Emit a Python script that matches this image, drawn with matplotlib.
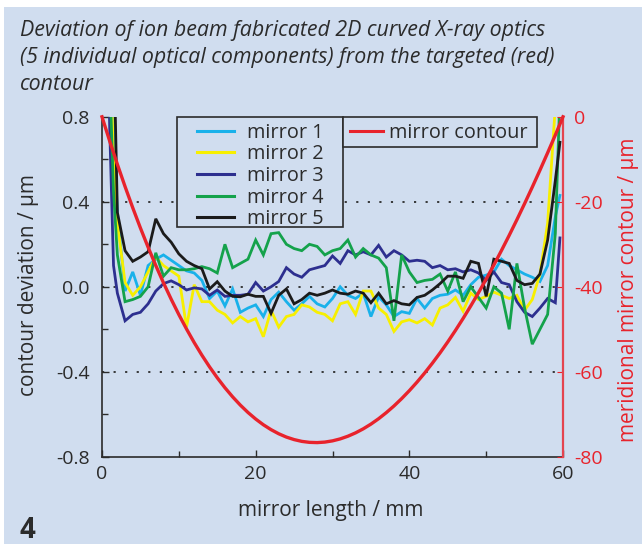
import numpy as np
import matplotlib
matplotlib.use("Agg")
import matplotlib.pyplot as plt
from matplotlib.patches import Rectangle
from matplotlib.lines import Line2D

plt.rcParams['font.family'] = ['Open Sans', 'DejaVu Sans']
plt.rcParams['axes.unicode_minus'] = False

BG = '#d0ddef'
INK = '#2b2b2b'
RED = '#e8232c'

# measured profile positions along the mirror (mm)
length_mm = np.array([0.5, 1.0, 1.5] + list(range(2, 60)) + [59.6])

# contour deviation of each mirror (µm)
mirror_1 = [3.0, 1.5, 0.75, 0.35, -0.02, 0.07, -0.04, 0.10, 0.13, 0.15, 0.125, 0.10, 0.075, 0.065,
            0.03, -0.055, -0.02, -0.09, -0.01, -0.12, -0.10, -0.085, -0.14, -0.06, -0.025, -0.07,
            -0.11, -0.08, -0.045, -0.08, -0.095, -0.055, 0.0, -0.04, -0.055, -0.03, -0.14, -0.047,
            -0.085, -0.14, -0.117, -0.125, -0.055, -0.10, -0.055, -0.04, -0.035, -0.015, -0.04,
            0.01, 0.045, 0.055, 0.07, 0.13, 0.10, 0.08, 0.06, 0.045, 0.025, 0.10, 0.33, 0.43]
mirror_2 = [2.8, 1.2, 0.6, 0.3, 0.02, -0.04, 0.0, 0.07, 0.14, 0.10, 0.075, 0.05, -0.19, 0.01,
            -0.07, -0.07, -0.11, -0.13, -0.17, -0.14, -0.165, -0.15, -0.235, -0.11, -0.19, -0.14,
            -0.13, -0.085, -0.095, -0.12, -0.13, -0.16, -0.08, -0.07, -0.13, -0.02, -0.02, -0.10,
            -0.13, -0.21, -0.165, -0.155, -0.17, -0.15, -0.18, -0.10, -0.085, -0.05, -0.115, -0.03,
            -0.06, -0.045, -0.025, -0.04, -0.055, -0.04, -0.11, -0.06, 0.06, 0.30, 0.85, 1.5]
mirror_3 = [1.8, 0.75, 0.1, -0.03, -0.16, -0.13, -0.12, -0.08, -0.02, 0.015, 0.028, 0.01, -0.015,
            -0.005, -0.01, -0.04, -0.015, -0.045, -0.04, -0.04, -0.035, 0.02, -0.02, 0.0, 0.025,
            0.09, 0.06, 0.045, 0.08, 0.09, 0.10, 0.145, 0.11, 0.17, 0.15, 0.165, 0.15, 0.195, 0.14,
            0.17, 0.15, 0.12, 0.125, 0.12, 0.09, 0.10, 0.08, 0.085, 0.07, 0.08, 0.065, 0.03, 0.07,
            0.02, 0.01, -0.07, -0.12, -0.14, -0.10, -0.055, -0.075, 0.23]
mirror_4 = [2.5, 1.0, 0.45, 0.15, -0.07, -0.06, -0.045, 0.0, 0.16, 0.05, 0.09, 0.08, 0.08, 0.085,
            0.095, 0.085, 0.065, 0.20, 0.09, 0.11, 0.13, 0.22, 0.15, 0.25, 0.255, 0.20, 0.18, 0.17,
            0.20, 0.19, 0.15, 0.17, 0.18, 0.22, 0.14, 0.18, 0.15, 0.135, 0.09, -0.16, 0.15, 0.07,
            0.02, 0.03, 0.035, 0.06, -0.02, 0.07, -0.07, 0.0, -0.05, -0.10, 0.0, -0.03, -0.20, 0.11,
            -0.10, -0.27, -0.20, -0.13, 0.25, 0.9]
mirror_5 = [4.0, 3.0, 1.2, 0.35, 0.17, 0.12, 0.14, 0.165, 0.32, 0.25, 0.21, 0.155, 0.12, 0.10,
            0.085, -0.01, 0.024, -0.02, -0.045, -0.047, -0.035, -0.045, -0.045, -0.125, -0.04,
            -0.01, -0.08, -0.06, -0.03, -0.04, -0.03, -0.015, -0.03, -0.035, -0.02, -0.03, -0.075,
            -0.03, -0.08, -0.065, -0.08, -0.085, -0.05, -0.04, -0.015, 0.015, 0.05, 0.05, 0.04,
            0.12, 0.11, -0.045, 0.13, 0.12, 0.11, 0.03, 0.01, 0.016, 0.06, 0.22, 0.50, 0.68]

series = [("mirror 1", mirror_1, '#19b1ea'),
          ("mirror 2", mirror_2, '#f7ef00'),
          ("mirror 3", mirror_3, '#2d2f8f'),
          ("mirror 4", mirror_4, '#14a24b'),
          ("mirror 5", mirror_5, '#1b1b1b')]

# targeted meridional contour (µm), 1 mm steps
contour_x = np.arange(0, 61, 1)
contour_um = [0.0, -5.71, -11.18, -16.41, -21.40, -26.16, -30.69, -34.99, -39.06, -42.90,
              -46.53, -49.93, -53.12, -56.09, -58.85, -61.40, -63.75, -65.89, -67.83, -69.57,
              -71.11, -72.46, -73.61, -74.58, -75.36, -75.95, -76.37, -76.60, -76.66, -76.54,
              -76.25, -75.79, -75.16, -74.37, -73.42, -72.31, -71.04, -69.61, -68.04, -66.31,
              -64.44, -62.43, -60.27, -57.97, -55.54, -52.97, -50.27, -47.44, -44.48, -41.40,
              -38.19, -34.87, -31.43, -27.88, -24.21, -20.43, -16.55, -12.56, -8.47, -4.29, 0.0]

left_ticks = [0.8, 0.4, 0.0, -0.4, -0.8]
left_labels = ["0.8", "0.4", "0.0", "-0.4", "-0.8"]
right_ticks = [0, -20, -40, -60, -80]
right_labels = ["0", "-20", "-40", "-60", "-80"]
x_ticks = [0, 20, 40, 60]

W, H = 642, 544
fig = plt.figure(figsize=(W / 100, H / 100), dpi=100, facecolor='white')
fig.add_artist(Rectangle((4 / W, 0), 1, (H - 7) / H, transform=fig.transFigure,
                         facecolor=BG, edgecolor='none', zorder=-10))

ax = fig.add_axes([102 / W, 87.2 / H, 461 / W, 340 / H])
ax.set_facecolor('none')
ax.set_xlim(0, 60)
ax.set_ylim(-0.8, 0.8)

for y in (0.4, 0.0, -0.4):
    ax.axhline(y, color=INK, lw=1.3, ls=(0, (1.2, 5.2)), zorder=1)

for name, vals, col in series:
    ax.plot(length_mm, vals, color=col, lw=2.0, label=name, zorder=2, solid_joinstyle='miter')

TICK_FS = 14
LABEL_FS = 15

ax.set_xticks(x_ticks)
ax.set_xticks([10, 30, 50], minor=True)
ax.set_yticks(left_ticks)
ax.set_yticklabels(left_labels)
ax.set_yticks([0.6, 0.2, -0.2, -0.6], minor=True)
ax.tick_params(axis='both', which='both', direction='in', colors=INK, labelsize=TICK_FS, width=1.0)
ax.tick_params(axis='both', which='major', length=5)
ax.tick_params(axis='both', which='minor', length=4)
ax.tick_params(axis='y', pad=9)
ax.tick_params(axis='x', pad=6)
for s in ('top', 'right'):
    ax.spines[s].set_visible(False)
for s in ('left', 'bottom'):
    ax.spines[s].set_color(INK)
    ax.spines[s].set_linewidth(1.2)

ax.set_xlabel("mirror length / mm", fontsize=LABEL_FS, color=INK, va='center')
ax.xaxis.set_label_coords(0.495, -0.157)
ax.set_ylabel("contour deviation / µm", fontsize=LABEL_FS, color=INK, va='center')
ax.yaxis.set_label_coords(-0.16, 0.505)

ax2 = ax.twinx()
ax2.set_ylim(-80, 0)
ax2.plot(contour_x, contour_um, color=RED, lw=2.4, clip_on=False, zorder=3,
         label="mirror contour")
ax2.set_yticks(right_ticks)
ax2.set_yticklabels(right_labels)
ax2.tick_params(axis='y', direction='in', colors=RED, labelsize=TICK_FS, length=4, pad=8)
for s in ('top', 'left', 'bottom'):
    ax2.spines[s].set_visible(False)
ax2.spines['right'].set_color('#e4444f')
ax2.spines['right'].set_linewidth(1.6)
ax2.set_ylabel("meridional mirror contour / µm", fontsize=LABEL_FS, color=RED, rotation=90,
               va='center')
ax2.yaxis.set_label_coords(1.141, 0.49)

# legend frames
ax2.add_patch(Rectangle((0.1627, 0.6759), 0.3601, 0.3241, transform=ax2.transAxes,
                        facecolor=BG, edgecolor=INK, lw=1.2, zorder=5, clip_on=False))
ax2.add_patch(Rectangle((0.5228, 0.9112), 0.4208, 0.0888, transform=ax2.transAxes,
                        facecolor=BG, edgecolor=INK, lw=1.2, zorder=5, clip_on=False))

fs = 14.3
handles1 = [Line2D([], [], color=c, lw=2.2) for _, _, c in series]
leg1 = ax2.legend(handles1, [n for n, _, _ in series], loc='center left',
                  bbox_to_anchor=(0.2061, 0.826), frameon=False, fontsize=fs,
                  borderpad=0, borderaxespad=0, handlelength=1.86, handletextpad=0.65,
                  labelspacing=0.08, labelcolor=INK)
leg1.set_zorder(6)
ax2.add_artist(leg1)
leg2 = ax2.legend([Line2D([], [], color=RED, lw=2.2)], ["mirror contour"], loc='center left',
                  bbox_to_anchor=(0.538, 0.953), frameon=False, fontsize=fs,
                  borderpad=0, borderaxespad=0, handlelength=1.66, handletextpad=0.3,
                  labelcolor=INK)
leg2.set_zorder(6)

fig.text(20 / W, 1 - 20 / H,
         "Deviation of ion beam fabricated 2D curved X-ray optics\n"
         "(5 individual optical components) from the targeted (red)\n"
         "contour",
         style='italic', fontsize=15.4, color=INK, va='top', ha='left', linespacing=1.38)
fig.text(19 / W, 6 / H, "4", fontweight='bold', fontsize=20, color=INK, va='baseline')

fig.savefig("out.png", dpi=100, facecolor=fig.get_facecolor())
